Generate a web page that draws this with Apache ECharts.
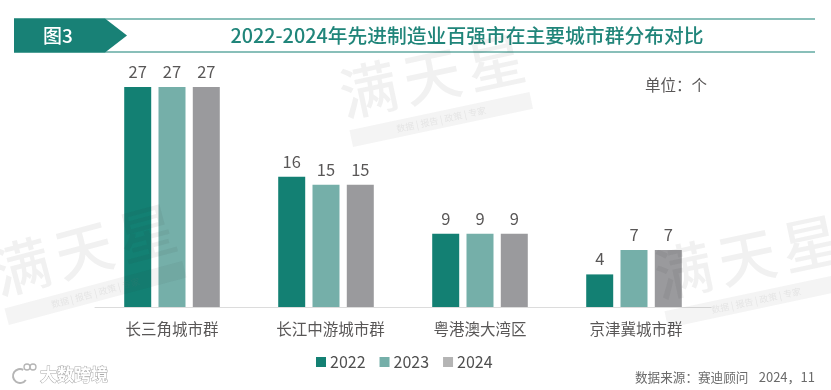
<!DOCTYPE html>
<html><head><meta charset="utf-8">
<style>html,body{margin:0;padding:0;background:#fff}#c{width:831px;height:390px}</style>
<script src="https://cdn.jsdelivr.net/npm/echarts@6/dist/echarts.min.js"></script>
</head><body><div id="c"></div>
<script>
const categories = ['长三角城市群',{value:'长江中游城市群',textStyle:{padding:[0,0,0,9]}},'粤港澳大湾区',{value:'京津冀城市群',textStyle:{padding:[0,0,0,4]}}];
const y2022 = [27,16,9,4];
const y2023 = [27,15,9,7];
const y2024 = [27,15,9,7];
const seriesNames = ['2022','2023','2024'];
const colors = ['#138073','#75afa9','#9a9a9d'];
const FONT = '"Noto Sans CJK SC","Noto Sans",sans-serif';
const chart = echarts.init(document.getElementById('c'),null,{renderer:'canvas'});

function mark(x,y,rot){
  const tag = '数据 | 报告 | 政策 | 专家';
  const glyph = (t,dx)=>({type:'text',z:50,style:{x:dx,y:0,text:t,font:'500 58px '+FONT,fill:'rgba(40,40,40,0.065)',textAlign:'center',textVerticalAlign:'middle'}});
  return {type:'group',x:x,y:y,rotation:rot*Math.PI/180,silent:true,children:[
    glyph('满',-65),glyph('天',0),glyph('星',65),
    {type:'rect',z:50,shape:{x:-92,y:36,width:184,height:17},style:{fill:'rgba(40,40,40,0.05)'}},
    {type:'text',z:51,style:{x:0,y:44.5,text:tag,font:'9px '+FONT,fill:'rgba(120,120,120,0.12)',textAlign:'center',textVerticalAlign:'middle'}}
  ]};
}
const base = {type:'bar',barWidth:27,barGap:'27%',
  label:{show:true,position:'top',distance:7,fontSize:16.5,color:'#595757',fontFamily:FONT}};
chart.setOption({
  animation:false,
  backgroundColor:'#fff',
  grid:{left:95,top:87,width:616,height:220,containLabel:false},
  xAxis:{type:'category',data:categories,
    axisLine:{show:true,lineStyle:{color:'#dcdcdc',width:1}},axisTick:{show:false},
    axisLabel:{fontSize:15.5,color:'#595757',fontFamily:FONT,margin:14}},
  yAxis:{type:'value',min:0,max:27,show:false,splitLine:{show:false}},
  legend:{left:311,top:349,itemWidth:10,itemHeight:10,itemGap:14,icon:'rect',
    textStyle:{fontSize:16,color:'#4f4f4f',fontFamily:FONT,padding:[0,0,0,-1]},
    data:[{name:'2022'},{name:'2023'},{name:'2024',itemStyle:{color:'#b4b4b4'}}]},
  series:[
    Object.assign({},base,{name:seriesNames[0],data:y2022,itemStyle:{color:colors[0]}}),
    Object.assign({},base,{name:seriesNames[1],data:y2023,itemStyle:{color:colors[1]}}),
    Object.assign({},base,{name:seriesNames[2],data:y2024,itemStyle:{color:colors[2]}})
  ],
  graphic:[
    mark(432,76,12), mark(84,250,15), mark(747,257,12),
    {type:'line',shape:{x1:14,y1:19,x2:815,y2:19},style:{stroke:'#62aaa2',lineWidth:1.5},silent:true},
    {type:'line',shape:{x1:14,y1:52,x2:815,y2:52},style:{stroke:'#62aaa2',lineWidth:1.5},silent:true},
    {type:'polygon',shape:{points:[[14,18.5],[105,18.5],[127,35.5],[105,52.5],[14,52.5]]},style:{fill:'#188176'},silent:true},
    {type:'text',style:{x:58,y:35.5,text:'图3',font:'500 19px '+FONT,fill:'#fff',textAlign:'center',textVerticalAlign:'middle'}},
    {type:'text',style:{x:467,y:35.5,text:'2022-2024年先进制造业百强市在主要城市群分布对比',font:'500 19.8px '+FONT,fill:'#20857a',textAlign:'center',textVerticalAlign:'middle'}},
    {type:'text',style:{x:645,y:85,text:'单位：个',font:'15.5px '+FONT,fill:'#595757',textAlign:'left',textVerticalAlign:'middle'}},
    {type:'text',style:{x:635,y:377,text:'数据来源：赛迪顾问',font:'12.6px '+FONT,fill:'#6a6a6a',textAlign:'left',textVerticalAlign:'middle'}},
    {type:'text',style:{x:815,y:377,text:'2024，11',font:'13px '+FONT,fill:'#6a6a6a',textAlign:'right',textVerticalAlign:'middle'}},
    {type:'text',style:{x:40,y:375,text:'大数跨境',font:'bold 17px '+FONT,fill:'#fff',stroke:'#a9a9a9',lineWidth:1,textAlign:'left',textVerticalAlign:'middle'}},
    {type:'circle',shape:{cx:27,cy:367,r:3},style:{fill:'none',stroke:'#b5b5b5',lineWidth:1.3}},
    {type:'circle',shape:{cx:33,cy:367,r:3},style:{fill:'none',stroke:'#b5b5b5',lineWidth:1.3}},
    {type:'arc',shape:{cx:20,cy:376,r:7,startAngle:0.6,endAngle:5.2},style:{fill:'none',stroke:'#b5b5b5',lineWidth:2}}
  ]
});
</script></body></html>
